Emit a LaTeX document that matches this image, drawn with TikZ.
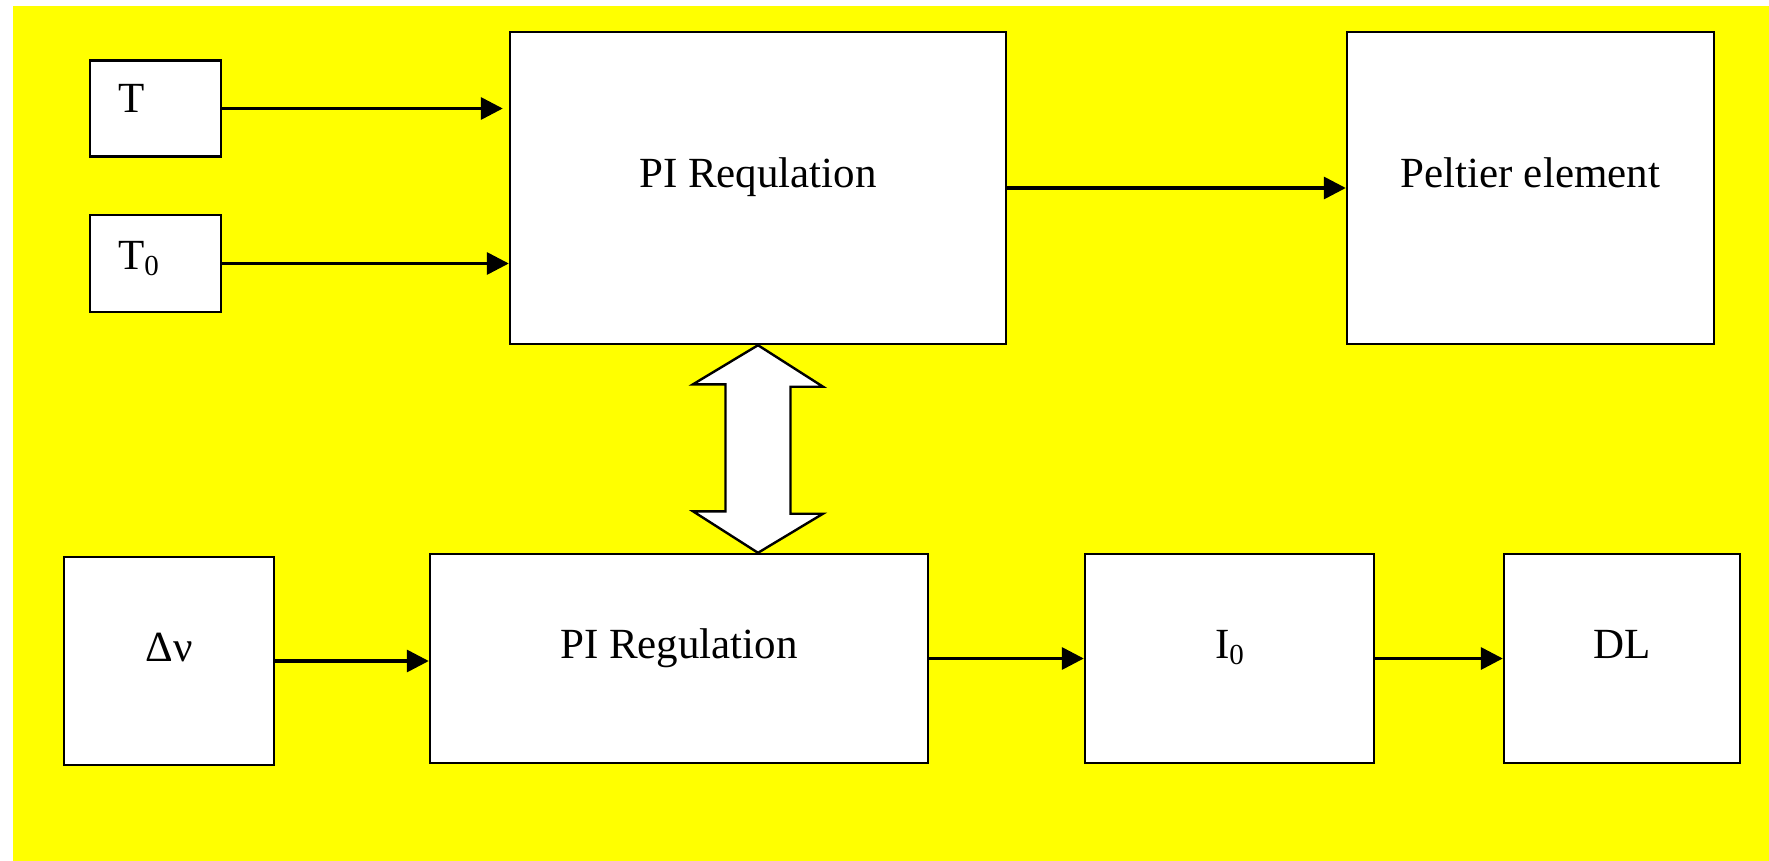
\documentclass[tikz,border=0pt]{standalone}
\usepackage{fontspec}
\setmainfont{Liberation Serif}
\usetikzlibrary{arrows.meta}
\definecolor{bgyellow}{RGB}{255,255,0}
\newcommand{\mysub}[1]{\raisebox{-6pt}{\fontsize{29}{30}\selectfont #1}}
\begin{document}
\begin{tikzpicture}[x=1pt,y=-1pt,
  box/.style={draw, line width=2.4pt, fill=white, inner sep=0pt,
    text height=14pt, text depth=14pt, font=\fontsize{43}{46}\selectfont},
  lbl/.style={inner sep=0pt, font=\fontsize{43}{46}\selectfont},
  arr/.style={line width=3.4pt, -{Triangle[length=22pt,width=22pt]}},
  dbl/.style={line width=2.4pt, fill=white, line join=miter}]
\useasboundingbox (0,0) rectangle (1769,861);
\fill[white] (0,0) rectangle (1769,861);
\fill[bgyellow] (13,6) rectangle (1769,861);

\node[box, minimum width=131pt, minimum height=96pt] (T) at (155.5,108.5) {};
\node[lbl, anchor=base west] (Tl) at (118,113) {T};
\node[box, minimum width=131pt, minimum height=97pt] (T0) at (155.5,263.5) {};
\node[lbl, anchor=base west] (T0l) at (118,269) {T\mysub{0}};
\node[box, minimum width=496pt, minimum height=312pt] (pi) at (758,188) {PI Requlation};
\node[box, minimum width=367pt, minimum height=312pt] (pel) at (1530.5,188) {Peltier element};
\node[box, minimum width=210pt, minimum height=208pt] (dn) at (169,661) {Δν};
\node[box, minimum width=498pt, minimum height=209pt] (pib) at (679,658.5) {PI Regulation};
\node[box, minimum width=289pt, minimum height=209pt] (I0) at (1229.5,658.5) {I\mysub{0}};
\node[box, minimum width=236pt, minimum height=209pt] (DL) at (1622,658.5) {DL};

\draw[arr, shorten >=6pt] (T.east) -- (T.east -| pi.west);
\draw[arr] (T0.east) -- (T0.east -| pi.west);
\draw[arr] (pi.east) -- (pel.west);
\draw[arr] (dn.east) -- (dn.east -| pib.west);
\draw[arr] (pib.east) -- (I0.west);
\draw[arr] (I0.east) -- (DL.west);

\coordinate (dtop) at (pi.south);
\coordinate (dbot) at (pi.south |- pib.north);
\draw[dbl] (dtop) -- ++(65,41.5) -- ++(-32.5,0) -- ++(0,127) -- ++(32.5,0)
  -- (dbot) -- ++(-65,-41.5) -- ++(32.5,0) -- ++(0,-127) -- ++(-32.5,0) -- cycle;
\end{tikzpicture}
\end{document}
